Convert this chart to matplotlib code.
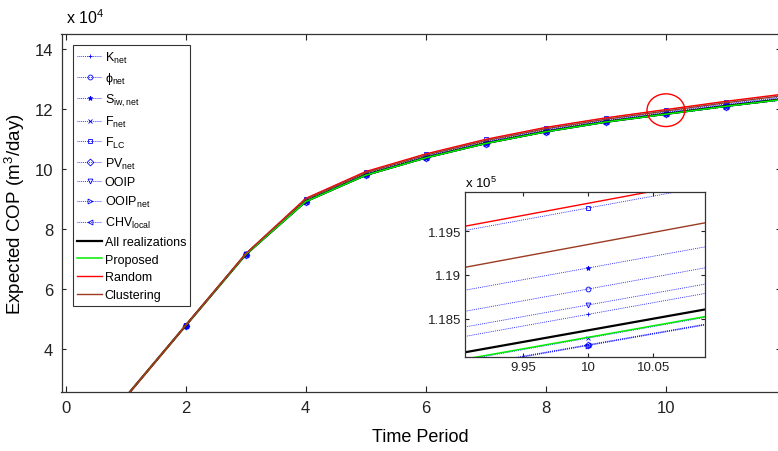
import matplotlib
matplotlib.use("Agg")
import matplotlib.pyplot as plt
from matplotlib.patches import Ellipse

plt.rcParams['font.family'] = ['Liberation Sans', 'DejaVu Sans']
plt.rcParams['mathtext.fontset'] = 'custom'
plt.rcParams['mathtext.rm'] = 'Liberation Sans'
plt.rcParams['mathtext.it'] = 'Liberation Sans'
plt.rcParams['mathtext.default'] = 'regular'

# ---------------- data ----------------
time = [1, 2, 3, 4, 5, 6, 7, 8, 9, 10, 11, 12]

k_net      = [24000, 47810, 71540, 89330, 98150, 103950, 108760, 112670, 115901, 118551, 121201, 123610]
phi_net    = [24000, 47820, 71590, 89530, 98380, 104200, 109020, 112950, 116160, 118840, 121520, 123950]
siw_net    = [24000, 47840, 71640, 89700, 98570, 104400, 109240, 113180, 116412, 119080, 121748, 124200]
f_net      = [24000, 47800, 71480, 89140, 97930, 103720, 108520, 112420, 115660, 118280, 120900, 123290]
f_lc       = [24000, 47870, 71780, 90180, 99120, 104990, 109860, 113830, 117064, 119764, 122464, 124960]
pv_net     = [24000, 47790, 71470, 89080, 97860, 103660, 108450, 112340, 115600, 118200, 120800, 123180]
ooip       = [24000, 47810, 71560, 89400, 98230, 104050, 108860, 112770, 116018, 118658, 121298, 123720]
ooip_net   = [24000, 47790, 71470, 89080, 97860, 103650, 108440, 112330, 115595, 118195, 120795, 123175]
chv_local  = [24000, 47790, 71470, 89080, 97870, 103660, 108450, 112340, 115605, 118205, 120805, 123185]
all_real   = [24000, 47800, 71500, 89200, 98000, 103800, 108600, 112500, 115729, 118369, 121009, 123400]
proposed   = [24000, 47800, 71480, 89140, 97940, 103730, 108530, 112420, 115669, 118289, 120909, 123300]
random_sel = [24000, 47870, 71790, 90210, 99160, 105030, 109900, 113880, 117061, 119818, 122575, 125080]
clustering = [24000, 47850, 71700, 89890, 98780, 104630, 109480, 113430, 116606, 119348, 122090, 124560]

blue_series = [
    (k_net, '+', r'K$_{net}$'),
    (phi_net, 'o', r'$\phi_{net}$'),
    (siw_net, '*', r'S$_{iw,net}$'),
    (f_net, 'x', r'F$_{net}$'),
    (f_lc, 's', r'F$_{LC}$'),
    (pv_net, 'D', r'PV$_{net}$'),
    (ooip, 'v', 'OOIP'),
    (ooip_net, '>', r'OOIP$_{net}$'),
    (chv_local, '<', r'CHV$_{local}$'),
]
solid_series = [
    (all_real, 'black', 1.6, 'All realizations'),
    (proposed, '#00ee00', 1.1, 'Proposed'),
    (random_sel, '#ff0000', 1.0, 'Random'),
    (clustering, '#9c3a22', 1.0, 'Clustering'),
]

main_xticks = [0, 2, 4, 6, 8, 10]
main_yticks = [40000, 60000, 80000, 100000, 120000, 140000]
inset_xticks = [9.95, 10, 10.05]
inset_yticks = [118500, 119000, 119500]

W, H = 778, 452
fig = plt.figure(figsize=(W / 100, H / 100), dpi=100)

def frac(x0, y0, x1, y1):
    return [x0 / W, 1 - y1 / H, (x1 - x0) / W, (y1 - y0) / H]

ax = fig.add_axes(frac(61.5, 35, 780, 393))
axi = fig.add_axes(frac(465, 193.3, 705, 358.3))

def draw(a, ms):
    for vals, mk, lab in blue_series:
        a.plot(time, vals, linestyle=(0, (1, 1.3)), color='blue', lw=0.6,
               marker=mk, ms=ms, mfc='none' if mk not in ('*',) else 'blue',
               mew=0.6, label=lab)
    for vals, col, lw, lab in solid_series:
        a.plot(time, vals, color=col, lw=lw, label=lab)

draw(ax, 3.5)
draw(axi, 3.5)

for a in (ax, axi):
    for s in a.spines.values():
        s.set_linewidth(0.9)
        s.set_color('#333333')

# main axes
ax.set_xlim(-0.067, 11.9)
ax.set_ylim(25700, 145000)
ax.set_xticks(main_xticks)
ax.set_yticks(main_yticks)
ax.set_xticklabels([str(v) for v in main_xticks])
ax.set_yticklabels([str(int(v / 1e4)) for v in main_yticks])
ax.tick_params(direction='in', top=True, right=True, labelsize=12, colors='#222222')
ax.tick_params(axis='x', length=4.5, pad=6)
ax.tick_params(axis='y', length=3, pad=6)
ax.set_xlabel('Time Period', fontsize=13, labelpad=9)
ax.set_ylabel('Expected COP (m$^3$/day)', fontsize=13.5)
ax.yaxis.set_label_coords(-(61.5 - 27) / 718.5, 0.5)
fig.text(66 / W, 1 - 18 / H, r'x 10$^4$', fontsize=11.5, ha='left', va='center')

ell = Ellipse((time[9], (random_sel[9] + pv_net[9]) / 2 + 600), width=0.63, height=10900,
              fill=False, edgecolor='red', lw=1.0, zorder=5)
ax.add_patch(ell)

leg = ax.legend(loc='upper left', bbox_to_anchor=(0.0156, 0.969), borderaxespad=0,
                fontsize=9, handlelength=2.0, handletextpad=0.2, labelspacing=0.46,
                borderpad=0.35, frameon=True, fancybox=False, edgecolor='black')
leg.get_frame().set_linewidth(0.8)

# inset axes
axi.set_xlim(9.905, 10.09)
axi.set_ylim(118061, 119943)
axi.set_xticks(inset_xticks)
axi.set_yticks(inset_yticks)
axi.set_xticklabels(['9.95', '10', '10.05'])
axi.set_yticklabels(['1.185', '1.19', '1.195'])
axi.tick_params(direction='in', top=True, right=True, labelsize=9.5, length=3, pad=3,
                colors='#222222')
fig.text(465 / W, 1 - 183 / H, r'x 10$^5$', fontsize=9.5, ha='left', va='center')

fig.savefig('out.png', dpi=100)
